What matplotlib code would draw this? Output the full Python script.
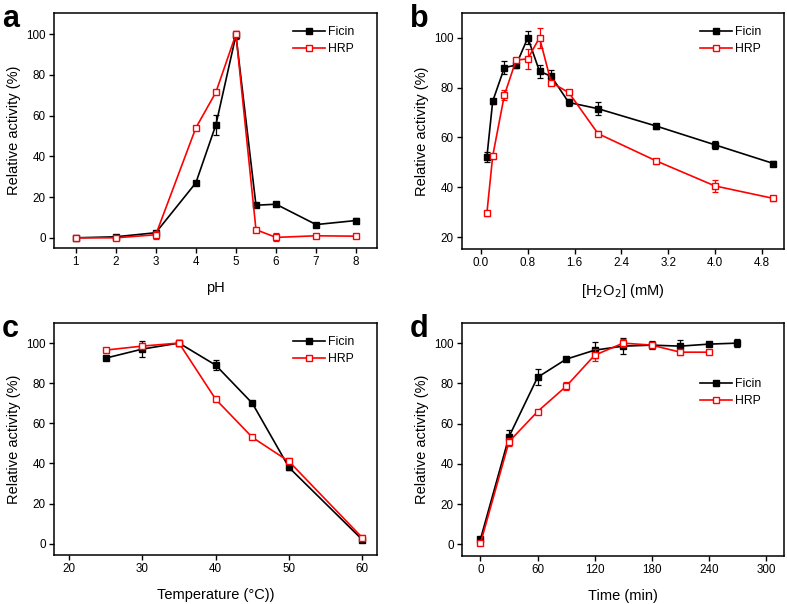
import matplotlib
matplotlib.use("Agg")
import matplotlib.pyplot as plt

plt.rcParams['font.family'] = ['Liberation Sans', 'DejaVu Sans']

# Panel a: pH
ph = [1, 2, 3, 4, 4.5, 5, 5.5, 6, 7, 8]
ph_ficin = [0, 0.5, 2.5, 27, 55.5, 99.5, 16, 16.5, 6.5, 8.5]
ph_ficin_err = [1, 1, 1, 1, 5, 2, 1, 1, 1, 1]
ph_hrp = [0, 0, 1.5, 54, 71.5, 100, 4, 0.2, 1, 0.8]
ph_hrp_err = [1, 1, 2, 1, 1, 1.5, 1, 2, 1, 1]

# Panel b: H2O2
h2o2 = [0.1, 0.2, 0.4, 0.6, 0.8, 1.0, 1.2, 1.5, 2.0, 3.0, 4.0, 5.0]
h_ficin = [52, 74.5, 88, 89, 100, 86.5, 84.5, 74, 71.5, 64.5, 57, 49.5]
h_ficin_err = [2, 1, 2.5, 1, 2.5, 2.5, 2.5, 1.5, 2.5, 1, 1.5, 1]
h_hrp = [29.5, 52.5, 77, 91, 91.5, 100, 82, 78, 61.5, 50.5, 40.5, 35.5]
h_hrp_err = [1, 1, 2, 1, 4, 4, 1, 1, 1, 1, 2.5, 1]

# Panel c: temperature
temp = [25, 30, 35, 40, 45, 50, 60]
t_ficin = [92.5, 97, 100, 89, 70, 38, 2]
t_ficin_err = [1, 4, 1.5, 2.5, 1, 1, 1]
t_hrp = [96.5, 98.5, 100, 72, 53, 41, 3]
t_hrp_err = [1, 1.5, 1, 1, 1, 1.5, 1.5]

# Panel d: time
time_f = [0, 30, 60, 90, 120, 150, 180, 210, 240, 270]
d_ficin = [2.5, 53.5, 83, 92, 96.5, 98.5, 99, 98.5, 99.5, 100]
d_ficin_err = [1, 3.5, 4, 1, 4, 4, 2, 3, 1, 2]
time_h = [0, 30, 60, 90, 120, 150, 180, 210, 240]
d_hrp = [0.5, 51, 66, 78.5, 94, 100, 99, 95.5, 95.5]
d_hrp_err = [1, 2, 1, 2, 3, 2, 1.5, 1.5, 1]

W, H = 787, 604
fig = plt.figure(figsize=(W / 100, H / 100), dpi=100)


def make_ax(x0, y0, x1, y1):
    return fig.add_axes([x0 / W, 1 - y1 / H, (x1 - x0) / W, (y1 - y0) / H])


def draw(ax, xf, yf, ef, xh, yh, eh, loc, anchor):
    cf = ax.errorbar(xf, yf, yerr=ef, color='black', marker='s', markersize=4.8,
                     linewidth=1.2, capsize=2.2, elinewidth=0.9, capthick=0.9,
                     markerfacecolor='black', markeredgecolor='black', label='Ficin', zorder=2)
    ch = ax.errorbar(xh, yh, yerr=eh, color='#ff0000', marker='s', markersize=4.8,
                     linewidth=1.2, capsize=2.2, elinewidth=0.9, capthick=0.9,
                     markerfacecolor='white', markeredgecolor='#ff0000', label='HRP', zorder=3)
    for s in ax.spines.values():
        s.set_linewidth(1.1)
    ax.tick_params(direction='out', length=3.5, width=1, labelsize=8.4,
                   top=False, right=False, pad=2.5)
    ax.set_ylabel('Relative activity (%)', fontsize=10.5, labelpad=4)
    ax.legend(handles=[cf[0], ch[0]], labels=['Ficin', 'HRP'], loc=loc,
              bbox_to_anchor=anchor, frameon=False, fontsize=8.8,
              handlelength=2.6, handletextpad=0.3, labelspacing=0.4)


axa = make_ax(54, 13, 377, 248)
draw(axa, ph, ph_ficin, ph_ficin_err, ph, ph_hrp, ph_hrp_err, 'upper right', (0.965, 0.99))
axa.set_xlim(0.46, 8.52)
axa.set_ylim(-5, 110.4)
axa.set_xticks([1, 2, 3, 4, 5, 6, 7, 8])
axa.set_yticks([0, 20, 40, 60, 80, 100])
axa.set_xlabel('pH', fontsize=10.5, labelpad=9)

axb = make_ax(462, 13, 784, 249)
draw(axb, h2o2, h_ficin, h_ficin_err, h2o2, h_hrp, h_hrp_err, 'upper right', (0.965, 0.99))
axb.set_xlim(-0.325, 5.18)
axb.set_ylim(15.2, 109.9)
axb.set_xticks([0.0, 0.8, 1.6, 2.4, 3.2, 4.0, 4.8])
axb.set_xticklabels(['0.0', '0.8', '1.6', '2.4', '3.2', '4.0', '4.8'])
axb.set_yticks([20, 40, 60, 80, 100])
axb.set_xlabel('[H$_2$O$_2$] (mM)', fontsize=10.5, labelpad=9)

axc = make_ax(54, 323, 377, 555)
draw(axc, temp, t_ficin, t_ficin_err, temp, t_hrp, t_hrp_err, 'upper right', (0.965, 0.99))
axc.set_xlim(17.95, 62)
axc.set_ylim(-5.6, 110)
axc.set_xticks([20, 30, 40, 50, 60])
axc.set_yticks([0, 20, 40, 60, 80, 100])
axc.set_xlabel('Temperature (°C))', fontsize=10.5, labelpad=9)

axd = make_ax(462, 323, 784, 556)
draw(axd, time_f, d_ficin, d_ficin_err, time_h, d_hrp, d_hrp_err, 'center right', (0.965, 0.70))
axd.set_xlim(-19.4, 319)
axd.set_ylim(-5.8, 110)
axd.set_xticks([0, 60, 120, 180, 240, 300])
axd.set_yticks([0, 20, 40, 60, 80, 100])
axd.set_xlabel('Time (min)', fontsize=10.5, labelpad=9)

for lab, (x, y) in zip('abcd', [(2, 27), (410, 27), (2, 337), (410, 337)]):
    fig.text(x / W, 1 - y / H, lab, fontsize=22, fontweight='bold',
             ha='left', va='baseline')

fig.savefig('out.png', dpi=100)
